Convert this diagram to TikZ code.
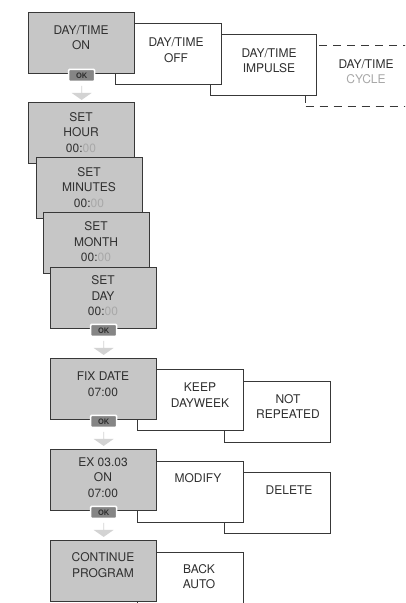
\documentclass[tikz,border=0pt]{standalone}
\usepackage{fontspec}
\setmainfont{TeX Gyre Heros}
\usetikzlibrary{shapes.arrows}
\definecolor{screen}{HTML}{C6C6C6}
\definecolor{edge}{HTML}{383838}
\definecolor{ink}{HTML}{303030}
\definecolor{faded}{HTML}{A8A8A8}
\definecolor{keyfill}{HTML}{858585}
\definecolor{hint}{HTML}{D3D3D3}
\newcommand{\dimzero}{00:\textcolor{faded}{00}}
\tikzset{panel/.style={draw=edge,line width=1.3pt,fill=screen,anchor=north west,
  minimum width=106pt,minimum height=61pt,inner sep=0pt},
  choice/.style={panel,fill=white},
  lbl/.style={align=center,text=ink,font=\fontsize{12}{15.5}\selectfont,inner sep=0pt},
  okkey/.style={fill=keyfill,draw=white,line width=1.6pt,rounded corners=1pt,
  minimum width=26pt,minimum height=12pt,inner sep=0pt,
  font=\fontsize{7.5}{8}\selectfont\bfseries,text=ink},
  nextarrow/.style={single arrow,shape border rotate=270,fill=hint,
  minimum height=14pt,minimum width=20pt,single arrow head extend=5pt,
  single arrow tip angle=110,inner sep=0pt}}

\begin{document}
\begin{tikzpicture}[x=1pt,y=-1pt]
\useasboundingbox (0,0) rectangle (405,603);
\clip (0,0) rectangle (405,603);
% mode row
\node[choice,dash pattern=on 8pt off 6pt] (cycle) at (305,45) {};
\node[lbl] (cyclet) at (366,71.5) {DAY/TIME\\\textcolor{faded}{CYCLE}};
\node[choice] (impulse) at (210,34) {};
\node[lbl] (impulset) at (269,60.5) {DAY/TIME\\IMPULSE};
\node[choice] (off) at (115,23) {};
\node[lbl] (offt) at (176,50) {DAY/TIME\\OFF};
\node[panel] (on) at (28,12) {};
\node[lbl] (ont) at (81,37.5) {DAY/TIME\\ON};
% setting stack
\node[panel] (hour) at (28,102) {};
\node[lbl] (hourt) at (81,132.5) {SET\\HOUR\\\dimzero};
\node[panel] (minutes) at (36,157) {};
\node[lbl] (minutest) at (89,187.5) {SET\\MINUTES\\\dimzero};
\node[panel] (month) at (43,212) {};
\node[lbl] (montht) at (96,242) {SET\\MONTH\\\dimzero};
\node[panel] (day) at (50,267) {};
\node[lbl] (dayt) at (103,296) {SET\\DAY\\\dimzero};
% fix date row
\node[choice] (notrep) at (224,381) {};
\node[lbl] (notrept) at (288,406.5) {NOT\\REPEATED};
\node[choice] (keep) at (137,369) {};
\node[lbl] (keept) at (200,395) {KEEP\\DAYWEEK};
\node[panel] (fixdate) at (50,358) {};
\node[lbl] (fixdatet) at (103,384) {FIX DATE\\07:00};
% example row
\node[choice] (delete) at (224,472) {};
\node[lbl] (deletet) at (289,490) {DELETE};
\node[choice] (modify) at (137,461) {};
\node[lbl] (modifyt) at (198,478) {MODIFY};
\node[panel] (exon) at (50,449) {};
\node[lbl] (exont) at (103,477.5) {EX 03.03\\ON\\07:00};
% last row
\node[choice] (back) at (137,552) {};
\node[lbl] (backt) at (199,576.5) {BACK\\AUTO};
\node[panel] (cont) at (50,540) {};
\node[lbl] (contt) at (103,565) {CONTINUE\\PROGRAM};
% ok keys and arrows
\foreach \b [count=\i] in {on,day,fixdate,exon}{
  \node[okkey] (ok\i) at ([yshift=-1pt]\b.south) {OK};
  \node[nextarrow] (go\i) at ([yshift=-18.5pt]\b.south) {};}
\end{tikzpicture}
\end{document}
